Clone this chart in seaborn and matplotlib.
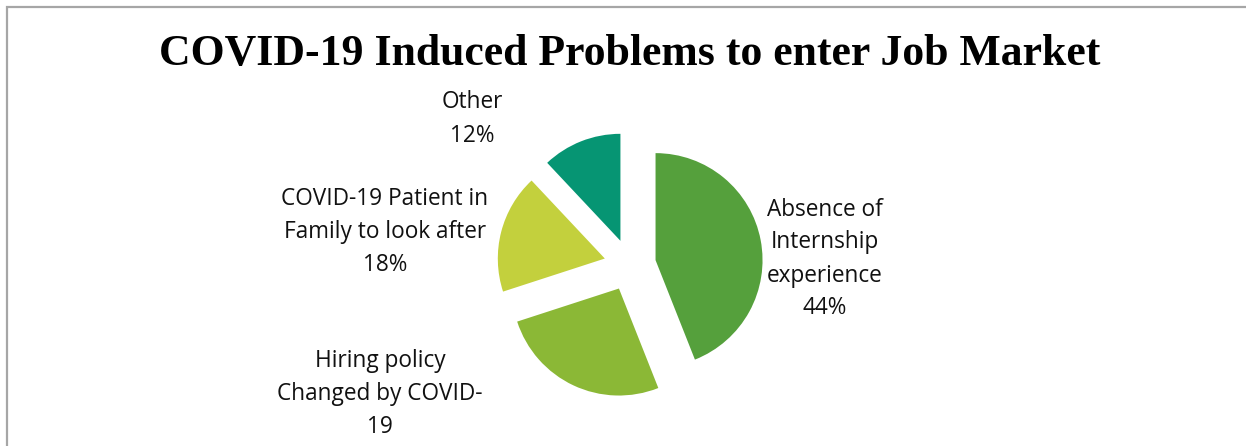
import matplotlib
matplotlib.use("Agg")
import matplotlib.pyplot as plt
import seaborn as sns

# --- data ---
categories = ["Absence of\nInternship\nexperience", "Hiring policy\nChanged by COVID-\n19",
              "COVID-19 Patient in\nFamily to look after", "Other"]
shares = [44, 26, 18, 12]
show_pct = [True, False, True, True]  # the hiring label's % line is cropped off in the source
colors = ["#55a03c", "#8bb836", "#c3d03d", "#069573"]

sns.set_theme(style="white")
plt.rcParams["font.family"] = ["Open Sans", "DejaVu Sans"]

W, H = 1246, 446
fig = plt.figure(figsize=(W / 100, H / 100), dpi=100)
ax = fig.add_axes([0, 0, 1, 1])

# pie in pixel coordinates (y measured from bottom); explode is absolute here
ax.pie(shares, colors=colors, startangle=90, counterclock=False,
       explode=[26] * len(shares), center=(630, H - 265), radius=107,
       wedgeprops=dict(linewidth=0), frame=True)
ax.set_xlim(0, W)
ax.set_ylim(0, H)
ax.axis("off")

# data labels, Excel-style placement
label_pos = [(825, 259), (380, 394), (385, 232), (472, 119)]
for cat, val, pct, (x, y) in zip(categories, shares, show_pct, label_pos):
    txt = f"{cat}\n{val}%" if pct else cat
    ax.text(x, H - y, txt, ha="center", va="center",
            fontsize=16.3, linespacing=1.5, color="#111111")

fig.text(630 / W, 1 - 54 / H, "COVID-19 Induced Problems to enter Job Market",
         ha="center", va="center", fontsize=31.5, fontweight="bold",
         family="Liberation Serif", color="black")

# chart area border (only top and left visible)
ax.plot([6.5, 6.5, W], [0, H - 6.5, H - 6.5], color="#a6a6a6", lw=1.6,
        solid_joinstyle="miter")

fig.savefig("out.png", dpi=100)
